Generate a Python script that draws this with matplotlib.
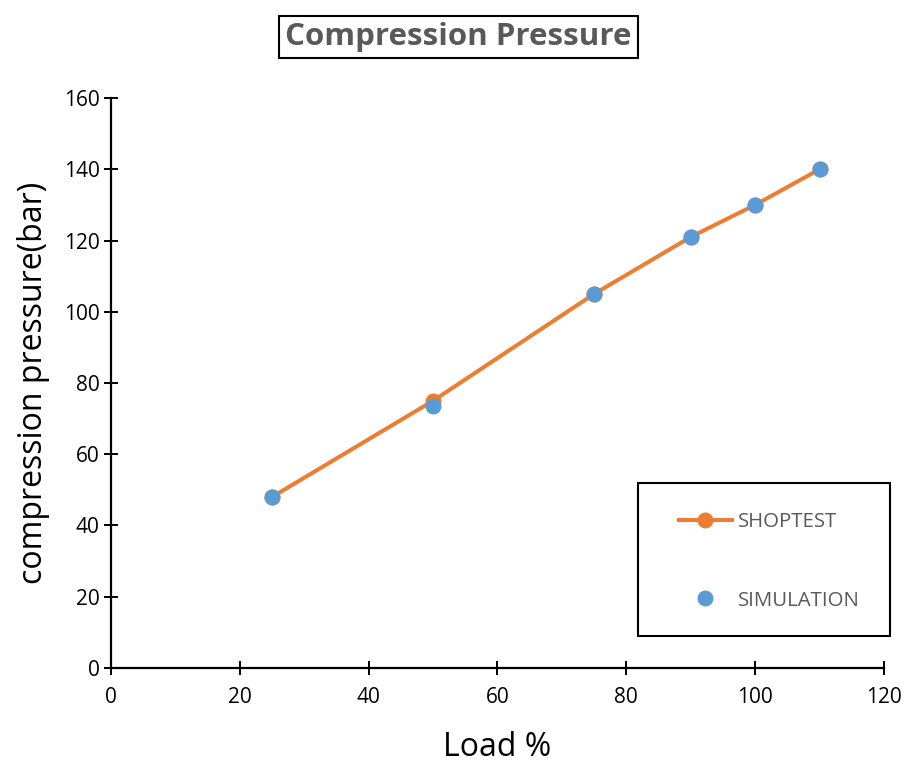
import numpy as np
import matplotlib
matplotlib.use("Agg")
import matplotlib.pyplot as plt
from matplotlib.patches import Rectangle

# load points and measured / simulated compression pressure
load = [25, 50, 75, 90, 100, 110]
shoptest = [48, 75, 105, 121, 130, 140]
simulation = [48, 73.5, 105, 121, 130, 140]

orange = "#ED7D31"
blue = "#5B9BD5"
grey = "#595959"

plt.rcParams['font.family'] = ['Open Sans', 'DejaVu Sans']

fig = plt.figure(figsize=(9.08, 7.64), dpi=100)
ax = fig.add_axes([0.1222, 0.1257, 0.8514, 0.7460])

ax.plot(load, shoptest, "-o", color=orange, lw=2.9, ms=10.5, label="SHOPTEST", zorder=2)
ax.plot(load, simulation, "o", color=blue, ms=10.5, label="SIMULATION", zorder=3)

ax.set_xlim(0, 120)
ax.set_ylim(0, 160)
ax.set_xticks(np.arange(0, 121, 20))
ax.set_yticks(np.arange(0, 161, 20))

for side in ["top", "right"]:
    ax.spines[side].set_visible(False)
for side in ["left", "bottom"]:
    ax.spines[side].set_linewidth(1.6)
ax.tick_params(direction="inout", length=10, width=1.4, labelsize=15)
ax.tick_params(axis="x", pad=9)
ax.tick_params(axis="y", pad=3)

ax.set_xlabel("Load %", fontsize=23, labelpad=16)
ax.set_ylabel("compression pressure(bar)", fontsize=23, labelpad=10)

# boxed title
fig.text(0.5046, 0.9516, "Compression Pressure", ha="center", va="center",
         fontsize=22.5, fontweight="bold", color=grey,
         bbox=dict(boxstyle="square,pad=0.2", fc="white", ec="black", lw=1.5))

# legend with a separate frame
fig.patches.append(Rectangle((638 / 908, 1 - 636 / 764), 252 / 908, 153 / 764,
                             transform=fig.transFigure, fill=False,
                             ec="black", lw=1.5))
leg = ax.legend(loc="center", bbox_to_anchor=(0.8470, 0.2650),
                bbox_transform=fig.transFigure, frameon=False,
                fontsize=14.7, labelspacing=2.85, handlelength=2.6,
                handletextpad=0.3, labelcolor=grey)

fig.savefig("out.png", dpi=100)
